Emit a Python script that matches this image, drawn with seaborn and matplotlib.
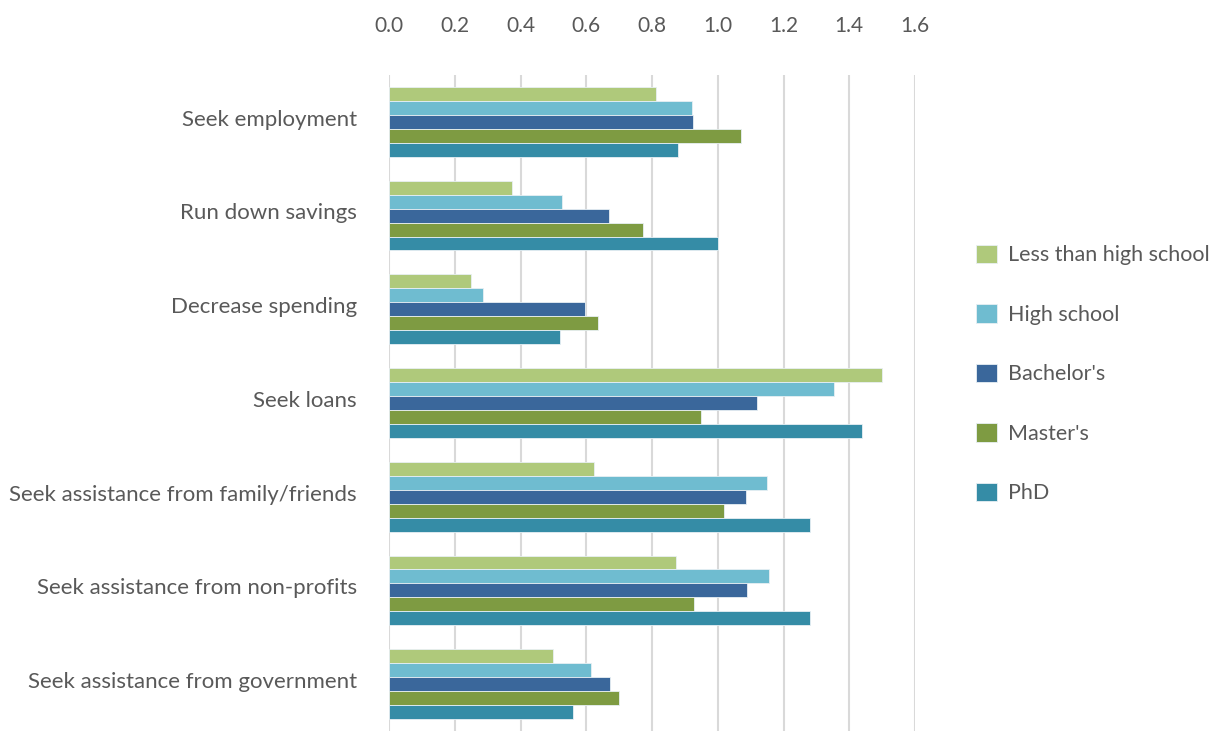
import numpy as np
import pandas as pd
import seaborn as sns
import matplotlib.pyplot as plt
import matplotlib.transforms as mtransforms

actions = ['Seek employment', 'Run down savings', 'Decrease spending', 'Seek loans',
           'Seek assistance from family/friends', 'Seek assistance from non-profits',
           'Seek assistance from government']
levels = ['Less than high school', 'High school', "Bachelor's", "Master's", 'PhD']

less_than_hs = [0.811, 0.374, 0.249, 1.500, 0.625, 0.874, 0.500]
high_school = [0.923, 0.526, 0.285, 1.354, 1.151, 1.156, 0.614]
bachelors = [0.926, 0.668, 0.596, 1.120, 1.087, 1.090, 0.673]
masters = [1.072, 0.774, 0.637, 0.948, 1.018, 0.928, 0.701]
phd = [0.880, 1.000, 0.520, 1.439, 1.280, 1.280, 0.559]

colors = ['#AFC97B', '#6FBCD0', '#3A679B', '#7E9B42', '#358CA6']

rows = []
for lvl, vals in zip(levels, [less_than_hs, high_school, bachelors, masters, phd]):
    for a, v in zip(actions, vals):
        rows.append({'action': a, 'level': lvl, 'value': v})
df = pd.DataFrame(rows)

sns.set_style('white')
plt.rcParams['font.family'] = ['Lato', 'DejaVu Sans']
text_col = '#595959'

fig = plt.figure(figsize=(12.25, 7.31), dpi=100)
ax = fig.add_axes([389/1225, 0.0, (915-389)/1225, 1 - 75/731])

sns.barplot(data=df, y='action', x='value', hue='level', order=actions, hue_order=levels,
            palette=colors, saturation=1, orient='h', width=0.745, gap=0, ax=ax,
            edgecolor='#E8F0F4', linewidth=0.6, legend=True)

ax.set_xlim(0, 1.6)
ax.set_ylim(6.5, -0.5)
ax.set_xticks(np.arange(0, 1.61, 0.2))
ax.set_xticklabels([f'{t:.1f}' for t in np.arange(0, 1.61, 0.2)])
ax.xaxis.tick_top()
ax.grid(axis='x', color='#D9D9D9', linewidth=1.5)
ax.set_axisbelow(True)
for s in ax.spines.values():
    s.set_visible(False)
ax.tick_params(axis='x', length=0, pad=28, labelsize=15, labelcolor=text_col)
ax.tick_params(axis='y', length=0, pad=23, labelsize=16, labelcolor=text_col)
# category labels sit a touch above the group centre
shift = mtransforms.ScaledTranslation(0, 3/72, fig.dpi_scale_trans)
for lab in ax.get_yticklabels():
    lab.set_transform(lab.get_transform() + shift)
ax.set_xlabel('')
ax.set_ylabel('')

handles, labels = ax.get_legend_handles_labels()
ax.legend(handles, labels, loc='center left', bbox_to_anchor=(957/1225, 1 - 374/731),
          bbox_transform=fig.transFigure, frameon=False, fontsize=15.5,
          handlelength=0.95, handleheight=0.95, handletextpad=0.5, labelspacing=1.8,
          labelcolor=text_col)

fig.savefig('out.png', dpi=100)
